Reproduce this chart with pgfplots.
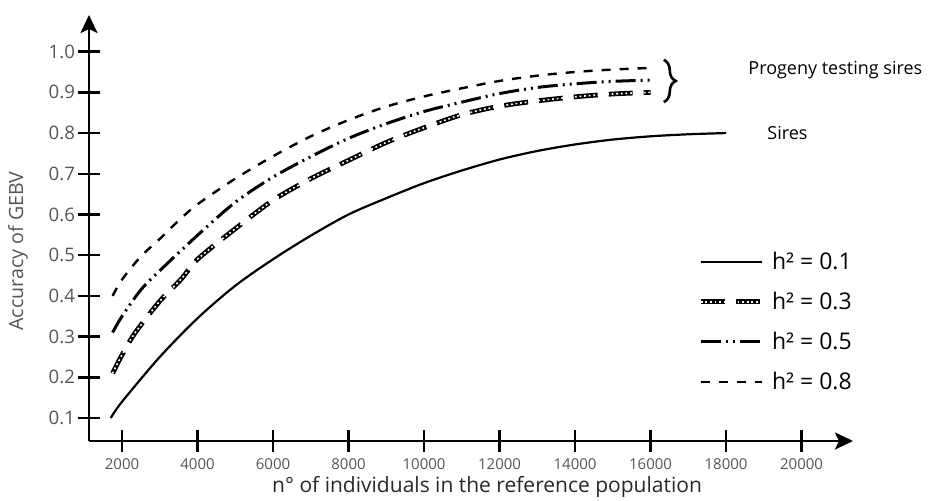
\documentclass[border=0pt]{standalone}
\usepackage{fontspec}
\setmainfont{Open Sans}
\usepackage{pgfplots}
\pgfplotsset{compat=1.18}
\usetikzlibrary{arrows.meta,decorations.pathreplacing}
\definecolor{lbl}{RGB}{85,85,85}
\definecolor{xl}{RGB}{40,40,40}
\begin{document}
\begin{tikzpicture}
\useasboundingbox (-44.5pt,-29.5pt) rectangle (423pt,220.5pt);
\begin{axis}[
  at={(0,0)}, anchor=south west,
  scale only axis, width=382pt, height=213pt,
  xmin=1125, xmax=21363, ymin=0.0435, ymax=1.09,
  axis lines=left,
  clip=false,
  no markers,
  scaled x ticks=false,
  axis line style={line width=1.3pt, -{Stealth[length=9pt,width=8.5pt,inset=2pt]}},
  tick style={line width=1.2pt, black},
  tick align=center, major tick length=11pt,
  xtick={2000,4000,...,20000},
  ytick={0.1,0.2,0.3,0.4,0.5,0.6,0.7,0.8,0.9,1.0},
  /pgf/number format/assume math mode=true,
  x tick label style={/pgf/number format/1000 sep={}},
  y tick label style={/pgf/number format/.cd, fixed, fixed zerofill, precision=1, /tikz/.cd},
  xticklabel style={font=\fontsize{7.5}{8}\selectfont, text=lbl},
  yticklabel style={font=\fontsize{9.3}{10}\selectfont, text=lbl, xshift=2pt},
  xlabel={n° of individuals in the reference population},
  xlabel style={at={(axis description cs:0.521,-0.108)}, anchor=center, font=\fontsize{10.5}{12}\selectfont, text=xl},
  ylabel={Accuracy of GEBV},
  ylabel style={at={(axis description cs:-0.093,0.446)}, anchor=center, font=\fontsize{9.8}{12}\selectfont, text=lbl},
  legend style={draw=none, fill=none, at={(axis description cs:0.797,0.455)}, anchor=north west,
    font=\fontsize{11.5}{13}\selectfont, row sep=5.8pt, inner sep=0pt,
    /tikz/every odd column/.append style={column sep=2pt}},
  legend cell align=left,
  legend image code/.code={\draw[#1] (0pt,0pt) -- (30.5pt,0pt);},
]
\addplot[black, line width=1.1pt, smooth] coordinates {
(1700,0.10)(2000,0.14)(3000,0.25)(4000,0.345)(5000,0.425)(6000,0.49)(7000,0.548)(8000,0.60)(9000,0.64)(10000,0.677)(11000,0.708)(12000,0.735)(13000,0.756)(14000,0.772)(15000,0.784)(16000,0.792)(17000,0.797)(18000,0.80)};
\addlegendentry{h² = 0.1}
\addplot[black, line width=2.4pt, dash pattern=on 12pt off 5.5pt, smooth,
  postaction={draw, white, line width=0.8pt, dash pattern=on 0.9pt off 1.4pt}] coordinates {
(1750,0.21)(2000,0.255)(2345,0.309)(3000,0.387)(3584,0.443)(4000,0.49)(5000,0.565)(6000,0.635)(7000,0.688)(8000,0.733)(9000,0.777)(10000,0.813)(11000,0.845)(12000,0.866)(13000,0.879)(14000,0.889)(15000,0.896)(16000,0.90)};
\addlegendentry{h² = 0.3}
\addplot[black, line width=1.5pt, dash pattern=on 10pt off 2.5pt on 1pt off 2.5pt on 1pt off 2.5pt, smooth] coordinates {
(1750,0.31)(2000,0.35)(2500,0.415)(3000,0.462)(4000,0.549)(5000,0.63)(6000,0.692)(7000,0.742)(8000,0.787)(9000,0.823)(10000,0.853)(11000,0.876)(12000,0.897)(13000,0.912)(14000,0.921)(15000,0.927)(16000,0.93)};
\addlegendentry{h² = 0.5}
\addplot[black, line width=1.2pt, dash pattern=on 4.5pt off 4.5pt, smooth] coordinates {
(1750,0.40)(2000,0.44)(2500,0.497)(3000,0.54)(3500,0.585)(4000,0.625)(5000,0.688)(6000,0.743)(7000,0.792)(8000,0.832)(9000,0.865)(10000,0.89)(11000,0.91)(12000,0.928)(13000,0.941)(14000,0.95)(15000,0.956)(16000,0.96)};
\addlegendentry{h² = 0.8}
\draw[decorate, decoration={brace, amplitude=6pt}, line width=1.3pt] (axis cs:16350,0.98) -- (axis cs:16350,0.876);
\node[anchor=west, inner sep=0pt, font=\fontsize{9}{11}\selectfont] at (rel axis cs:0.8626,0.871) {Progeny testing sires};
\node[anchor=west, inner sep=0pt, font=\fontsize{9}{11}\selectfont] at (rel axis cs:0.8874,0.723) {Sires};
\end{axis}
\end{tikzpicture}
\end{document}
